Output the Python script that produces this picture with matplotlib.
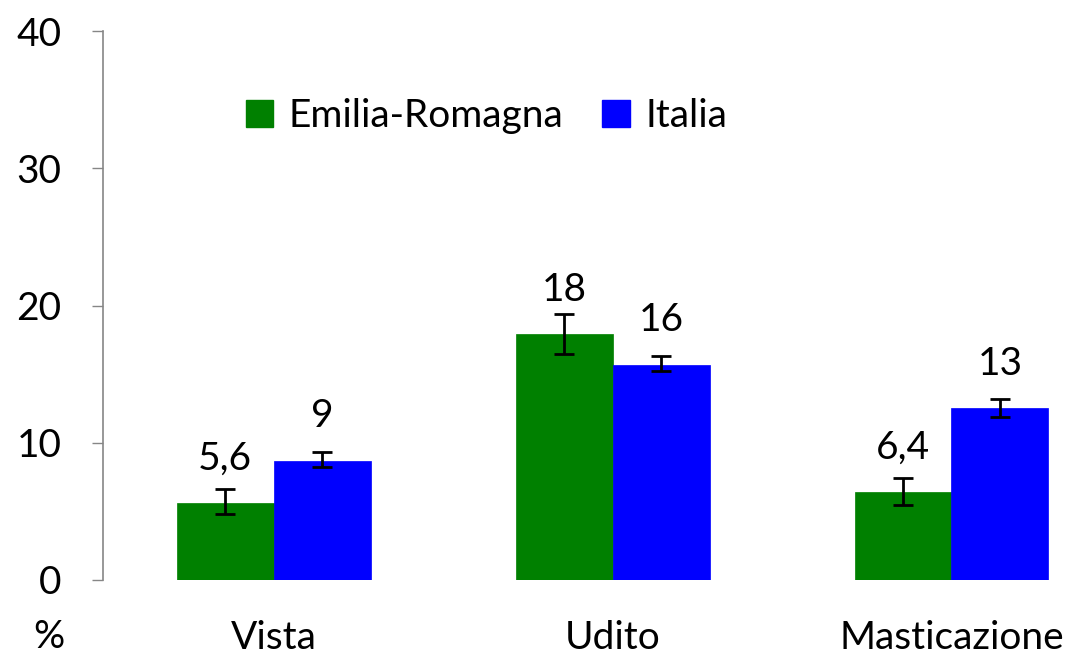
import numpy as np
import matplotlib
matplotlib.use("Agg")
import matplotlib.pyplot as plt
from matplotlib.patches import Patch

plt.rcParams['font.family'] = ['Lato', 'DejaVu Sans']

# data
categories = ['Vista', 'Udito', 'Masticazione']
series = ['Emilia-Romagna', 'Italia']
er_values = [5.6, 17.9, 6.4]
it_values = [8.7, 15.7, 12.5]
er_low = [4.8, 16.5, 5.5]
er_high = [6.6, 19.4, 7.4]
it_low = [8.2, 15.2, 11.9]
it_high = [9.3, 16.3, 13.2]
er_labels = ['5,6', '18', '6,4']
it_labels = ['9', '16', '13']
colors = ['#008000', '#0000FF']

fs = 28

fig = plt.figure(figsize=(10.76, 6.57), dpi=100)
ax = fig.add_axes([0.0957, 0.1172, 0.946, 0.8356])

x = np.arange(len(categories))
w = 0.286

def draw(vals, lo, hi, labels, off, col):
    vals = np.array(vals)
    yerr = [vals - np.array(lo), np.array(hi) - vals]
    ax.bar(x + off, vals, width=w, color=col, edgecolor=col, linewidth=0.5)
    ax.errorbar(x + off, vals, yerr=yerr, fmt='none', ecolor='black',
                elinewidth=2, capsize=7, capthick=2)
    for xi, v, t in zip(x + off, vals, labels):
        ax.annotate(t, (xi, v), xytext=(0, 19), textcoords='offset points',
                    ha='center', va='bottom', fontsize=fs)

draw(er_values, er_low, er_high, er_labels, -w / 2, colors[0])
draw(it_values, it_low, it_high, it_labels, w / 2, colors[1])

ax.set_xlim(-0.504, 2.5)
ax.set_ylim(0, 40)
ax.set_yticks([0, 10, 20, 30, 40])
ax.tick_params(axis='y', direction='out', length=8, width=1, color='#868686',
               labelsize=fs, pad=22)
ax.set_xticks(x)
ax.set_xticklabels(categories, fontsize=fs)
ax.tick_params(axis='x', length=0, pad=29)
for s in ['top', 'right', 'bottom']:
    ax.spines[s].set_visible(False)
ax.spines['left'].set_color('#868686')
ax.spines['left'].set_linewidth(1.2)

fig.text(0.045, 0.03, '%', fontsize=fs, ha='center', va='center')

handles = [Patch(facecolor=c, edgecolor=c) for c in colors]
fig.legend(handles, series, loc='center left', bbox_to_anchor=(0.196, 0.823),
           ncol=2, frameon=False, fontsize=fs, handlelength=0.7,
           handleheight=0.7, handletextpad=0.4, columnspacing=1.0)

fig.savefig('out.png', dpi=100)
